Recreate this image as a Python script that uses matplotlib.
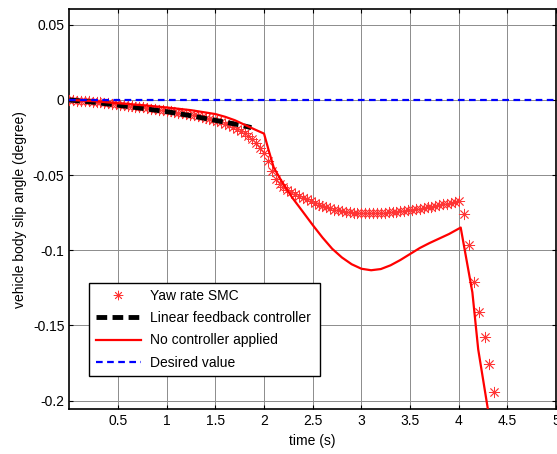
import numpy as np
import matplotlib
matplotlib.use("Agg")
import matplotlib.pyplot as plt

plt.rcParams['font.family'] = ['Liberation Sans', 'DejaVu Sans']

# Yaw rate SMC (asterisk markers)
smc_t = list(np.round(np.arange(0, 4.001, 0.04), 2)) + [4.05, 4.11, 4.16, 4.21, 4.27, 4.31, 4.36]
smc_v = [0.0000, -0.0002, -0.0004, -0.0006, -0.0008, -0.0010, -0.0012, -0.0015, -0.0017, -0.0020,
         -0.0023, -0.0026, -0.0029, -0.0032, -0.0035, -0.0038, -0.0041, -0.0044, -0.0047, -0.0050,
         -0.0054, -0.0057, -0.0061, -0.0065, -0.0068, -0.0072, -0.0076, -0.0080, -0.0084, -0.0088,
         -0.0093, -0.0097, -0.0102, -0.0107, -0.0113, -0.0119, -0.0125, -0.0132, -0.0140, -0.0148,
         -0.0157, -0.0167, -0.0178, -0.0190, -0.0204, -0.0220, -0.0240, -0.0262, -0.0287, -0.0318,
         -0.0355, -0.0405, -0.0470, -0.0525, -0.0560, -0.0582, -0.0598, -0.0612, -0.0625, -0.0637,
         -0.0650, -0.0662, -0.0675, -0.0686, -0.0696, -0.0705, -0.0714, -0.0722, -0.0729, -0.0735,
         -0.0740, -0.0744, -0.0747, -0.0750, -0.0752, -0.0753, -0.0754, -0.0754, -0.0754, -0.0753,
         -0.0751, -0.0749, -0.0747, -0.0745, -0.0743, -0.0741, -0.0738, -0.0735, -0.0732, -0.0728,
         -0.0724, -0.0720, -0.0715, -0.0710, -0.0705, -0.0700, -0.0695, -0.0690, -0.0684, -0.0678,
         -0.0670,
         -0.0757, -0.0965, -0.1210, -0.1410, -0.1580, -0.1760, -0.1940]

# Linear feedback controller (black dashed)
lin_t = [0, 0.25, 0.5, 0.75, 1.0, 1.25, 1.5, 1.75, 1.87]
lin_v = [0, -0.0015, -0.0035, -0.0056, -0.0078, -0.0105, -0.0136, -0.0166, -0.0184]

# No controller applied (red solid)
nc_t = [0, 0.25, 0.5, 0.75, 1.0, 1.25, 1.5, 1.6, 1.7, 1.8, 1.9, 2.0, 2.05, 2.1, 2.18, 2.29,
        2.4, 2.5, 2.6, 2.7, 2.8, 2.9, 3.0, 3.1, 3.2, 3.3, 3.4, 3.5, 3.6, 3.7, 3.8, 3.9, 4.02,
        4.14, 4.2, 4.31]
nc_v = [0, -0.0008, -0.0022, -0.0035, -0.0050, -0.0068, -0.0094, -0.0112, -0.0135, -0.0165,
        -0.0195, -0.0224, -0.0340, -0.0450, -0.0540, -0.0650, -0.0745, -0.0832, -0.0915, -0.0990,
        -0.1048, -0.1093, -0.1123, -0.1133, -0.1125, -0.1100, -0.1065, -0.1025, -0.0985, -0.0952,
        -0.0922, -0.0892, -0.0849, -0.1280, -0.1660, -0.2100]

# Desired value (blue dashed)
des_t = [0, 5]
des_v = [0, 0]

xticks = [0.5, 1, 1.5, 2, 2.5, 3, 3.5, 4, 4.5, 5]
xticklabels = ['0.5', '1', '1.5', '2', '2.5', '3', '3.5', '4', '4.5', '5']
yticks = [-0.2, -0.15, -0.1, -0.05, 0, 0.05]
yticklabels = ['-0.2', '-0.15', '-0.1', '-0.05', '0', '0.05']

fig = plt.figure(figsize=(5.57, 4.54), dpi=100)
ax = fig.add_axes([0.1244, 0.0985, 0.8740, 0.881])

ax.plot(smc_t, smc_v, linestyle='none', marker=(8, 2, 0), markersize=8,
        markeredgewidth=0.6, color='#ff3535', label='Yaw rate SMC', zorder=3)
ax.plot(lin_t, lin_v, color='black', linestyle=(0, (2.2, 1.1)), linewidth=3.5,
        label='Linear feedback controller', zorder=4)
ax.plot(nc_t, nc_v, color='#ff0000', linewidth=1.6, label='No controller applied', zorder=5)
ax.plot(des_t, des_v, color='#0000ff', linestyle=(0, (3, 2)), linewidth=1.6,
        label='Desired value', zorder=6)

ax.set_xlim(0, 5)
ax.set_ylim(-0.2058, 0.0603)
ax.set_xticks(xticks)
ax.set_xticklabels(xticklabels)
ax.set_yticks(yticks)
ax.set_yticklabels(yticklabels)
ax.tick_params(direction='in', top=True, right=True, length=3, labelsize=10, width=0.8)
ax.grid(True, color='#8c8c8c', linewidth=0.7)
ax.set_axisbelow(True)
for s in ax.spines.values():
    s.set_linewidth(1.2)

ax.set_xlabel('time (s)', fontsize=10, labelpad=4)
ax.set_ylabel('vehicle body slip angle (degree)', fontsize=10, labelpad=4)

leg = ax.legend(loc='lower left', bbox_to_anchor=(0.041, 0.083, 0.475, 0.233),
                mode='expand', fontsize=10, handlelength=3.3, labelspacing=0.6,
                borderaxespad=0, fancybox=False, framealpha=1, edgecolor='black',
                handletextpad=0.6, borderpad=0.45, markerscale=0.85)
leg.get_frame().set_linewidth(1.0)

fig.savefig('out.png', dpi=100)
